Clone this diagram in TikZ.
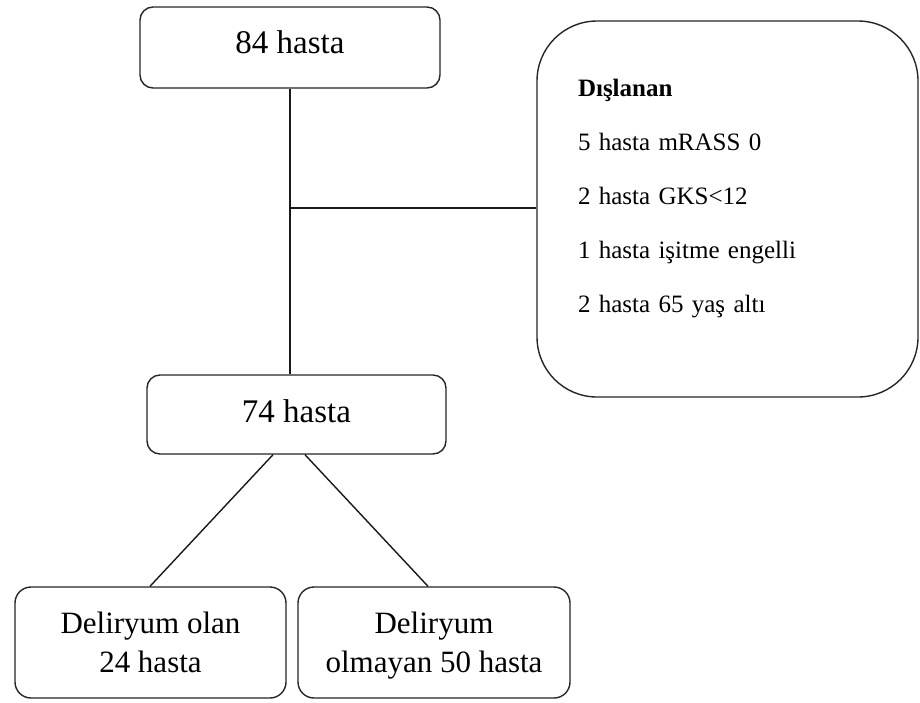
\documentclass[tikz,border=0pt]{standalone}
\usepackage{fontspec}
\setmainfont{Liberation Serif}
\usetikzlibrary{calc}
\begin{document}
\begin{tikzpicture}[x=1pt,y=-1pt,
  box/.style={draw=black!85, line width=1.4pt, rounded corners=13pt, inner sep=0pt, fill=white},
  bigtext/.style={font=\fontsize{33}{39}\selectfont},
  midtext/.style={font=\fontsize{31}{39}\selectfont, align=center},
  smalltext/.style={font=\fontsize{25}{54}\selectfont},
  conn/.style={draw=black!90, line width=1.4pt}]
\useasboundingbox (0,0) rectangle (920,702);
% boxes
\node[box, bigtext, minimum width=300pt, minimum height=81pt, text height=20pt, text depth=9pt] (b1) at (290,47.5) {84 hasta};
\node[box, bigtext, minimum width=299pt, minimum height=79pt, text height=22pt, text depth=7pt] (b74) at (296.5,414.5) {74 hasta};
\node[box, midtext, rounded corners=16pt, minimum width=271pt, minimum height=111pt, text height=63pt, text depth=4pt] (d1) at (150.5,642.5) {Deliryum olan\\24 hasta};
\node[box, midtext, rounded corners=16pt, minimum width=272pt, minimum height=111pt, text height=63pt, text depth=4pt] (d2) at (434,642.5) {Deliryum\\olmayan 50 hasta};
\node[box, smalltext, rounded corners=60pt, minimum width=381pt, minimum height=376pt, inner xsep=41pt, text width=299pt, align=left, text height=20pt, text depth=245pt] (ex) at (727.5,209)
  {\textbf{Dışlanan}\\5 hasta mRASS 0\\2 hasta GKS<12\\1 hasta işitme engelli\\2 hasta 65 yaş altı};
% connectors
\coordinate (j) at (290,208);
\draw[conn] (b1.south) -- (b1.south |- b74.north);
\draw[conn] (j) -- (j -| ex.west);
\draw[conn] ([xshift=-23.5pt]b74.south) -- ([xshift=-0.5pt]d1.north);
\draw[conn] ([xshift=8.5pt]b74.south) -- ([xshift=-6pt]d2.north);
\end{tikzpicture}
\end{document}
